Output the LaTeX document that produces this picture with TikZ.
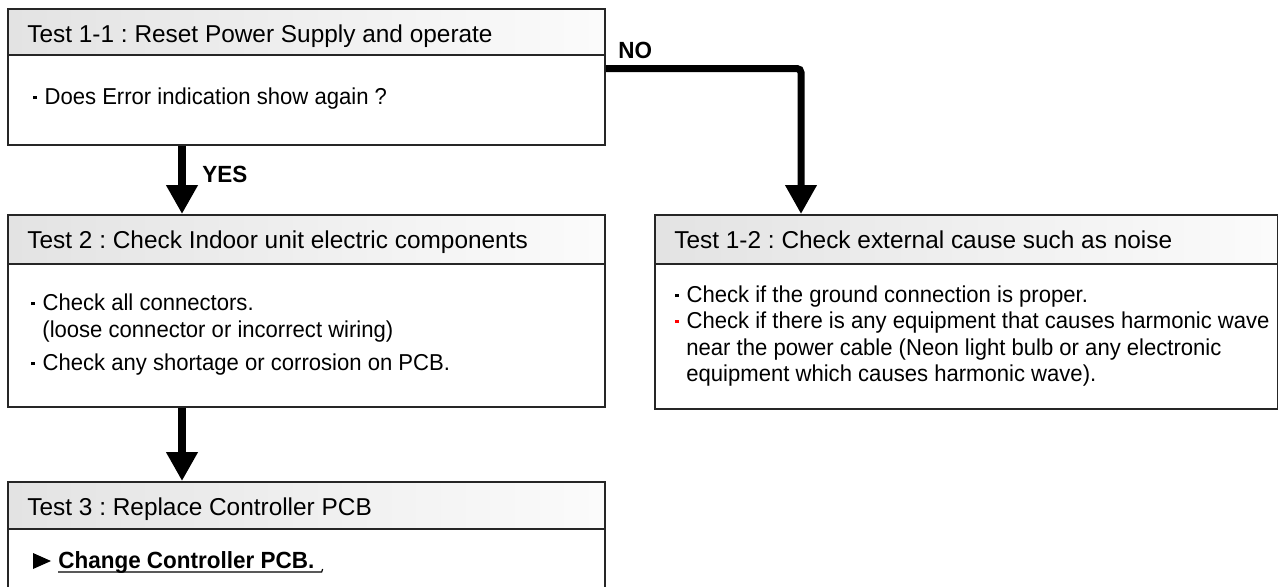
\documentclass[tikz,border=0pt]{standalone}
\usepackage{fontspec}
\setmainfont{Liberation Sans}[FakeStretch=0.96]
\newfontfamily\headfont{Liberation Sans}
\usetikzlibrary{arrows.meta,calc,shadows}

\newcommand{\itemsq}[1][black]{\textcolor{#1}{\rule[2.4pt]{1.6pt}{1.6pt}}\hspace{4pt}}
\frenchspacing

\begin{document}
\begin{tikzpicture}[x=0.5pt,y=-0.5pt]
        \tikzstyle{box} = [rectangle, draw=black!85, line width=0.9pt, fill=white, anchor=north west, inner sep=0pt, minimum width=298.5pt, drop shadow={shadow xshift=0.6pt, shadow yshift=-0.6pt, fill=black!45, opacity=1}]
        \tikzstyle{head} = [rectangle, draw=black!85, line width=0.9pt, left color=gray!22, right color=gray!3, anchor=north west, inner sep=0pt, minimum width=298.5pt]
        \tikzstyle{txt} = [anchor=base west, inner sep=0pt, font=\fontsize{11.5}{13.4}\selectfont]
        \tikzstyle{htxt} = [txt, font=\headfont\fontsize{12.2}{14}\selectfont]
        \tikzstyle{lbl} = [txt, font=\fontsize{11.7}{13.4}\selectfont\bfseries]
        \tikzstyle{flow} = [line width=4pt, -{Triangle[width=15pt,length=14.5pt]}]

        \useasboundingbox (0,0) rectangle (1278,586);
        \clip (0,0) rectangle (1278,586);

        \node[box, minimum height=68pt] (t11) at (7,8) {};
        \node[head, minimum height=23pt] (t11h) at (7,8) {};
        \node[htxt] (t11t) at ($(t11.north west)+(20,34)$) {Test 1-1 : Reset Power Supply and operate};
        \node[txt] (t11a) at ($(t11.north west)+(26,96)$) {\itemsq Does Error indication show again ?};

        \node[box, minimum height=96pt] (t2) at (7,214) {};
        \node[head, minimum height=24.5pt] (t2h) at (7,214) {};
        \node[htxt] (t2t) at ($(t2.north west)+(20,34)$) {Test 2 : Check Indoor unit electric components};
        \node[txt] (t2a) at ($(t2.north west)+(24,96)$) {\itemsq Check all connectors.};
        \node[txt] (t2b) at ($(t2.north west)+(35,123)$) {(loose connector or incorrect wiring)};
        \node[txt] (t2c) at ($(t2.north west)+(24,156)$) {\itemsq Check any shortage or corrosion on PCB.};

        \node[box, minimum height=60pt] (t3) at (7,481) {};
        \node[head, minimum height=23.5pt] (t3h) at (7,481) {};
        \node[htxt] (t3t) at ($(t3.north west)+(20,34)$) {Test 3 : Replace Controller PCB};
        \fill ($(t3.north west)+(26,72)$) -- ++(18,8) -- ++(-18,8) -- cycle;
        \node[lbl] (t3a) at ($(t3.north west)+(51,87)$) {Change Controller PCB.};
        \draw[line width=0.6pt] ($(t3a.base west)+(0,4)$) -- ($(t3a.base east)+(7,4)$) -- ++(1,-3);

        \node[box, minimum width=311.5pt, minimum height=97pt] (t12) at (654,214) {};
        \node[head, minimum width=311.5pt, minimum height=24.5pt] (t12h) at (654,214) {};
        \node[htxt] (t12t) at ($(t12.north west)+(20,34)$) {Test 1-2 : Check external cause such as noise};
        \node[txt] (t12a) at ($(t12.north west)+(21,88)$) {\itemsq Check if the ground connection is proper.};
        \node[txt] (t12b) at ($(t12.north west)+(21,114)$) {\itemsq[red]Check if there is any equipment that causes harmonic wave};
        \node[txt] (t12c) at ($(t12.north west)+(32,141)$) {near the power cable (Neon light bulb or any electronic};
        \node[txt] (t12d) at ($(t12.north west)+(32,167)$) {equipment which causes harmonic wave).};

        \coordinate (yx) at (182,0);
        \coordinate (nx) at (801,0);
        \coordinate (ny) at (0,68.5);
        \draw[flow] (t11.south -| yx) -- (t2.north -| yx);
        \draw[flow] (t2.south -| yx) -- (t3.north -| yx);
        \draw[flow, line width=3.5pt, rounded corners=2pt] (t11.east |- ny) -| (t12.north -| nx);
        \node[lbl] (yes) at (202,182) {YES};
        \node[lbl] (no) at (618,58) {NO};
\end{tikzpicture}
\end{document}
